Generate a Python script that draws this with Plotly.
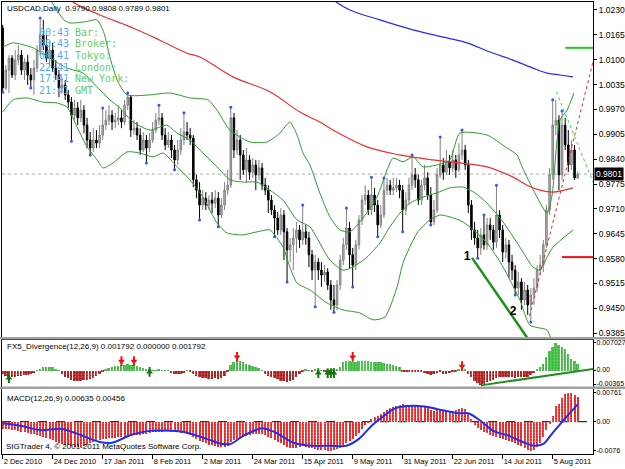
import plotly.graph_objects as go

# ---------------- DATA ----------------
opens = [1.0183,1.0026,1.0073,1.0104,1.0060,1.0099,1.0112,1.0073,1.0094,1.0060,
1.0047,1.0078,1.0125,1.0165,1.0138,1.0104,1.0125,1.0078,1.0060,1.0026,
1.0034,1.0008,0.9989,0.9955,0.9974,0.9948,0.9968,0.9929,0.9890,0.9869,
0.9890,0.9882,0.9903,0.9929,0.9942,0.9955,0.9937,0.9942,0.9948,0.9937,
0.9981,1.0002,0.9916,0.9921,0.9903,0.9864,0.9890,0.9869,0.9890,0.9916,
0.9942,0.9948,0.9903,0.9877,0.9890,0.9864,0.9838,0.9864,0.9890,0.9911,
0.9903,0.9895,0.9786,0.9759,0.9720,0.9738,0.9720,0.9733,0.9725,0.9738,
0.9694,0.9720,0.9759,0.9772,0.9948,0.9864,0.9890,0.9851,0.9812,0.9838,
0.9806,0.9825,0.9799,0.9817,0.9772,0.9759,0.9733,0.9707,0.9686,0.9655,
0.9694,0.9650,0.9603,0.9616,0.9634,0.9655,0.9629,0.9650,0.9634,0.9590,
0.9550,0.9571,0.9550,0.9537,0.9545,0.9511,0.9472,0.9459,0.9511,0.9576,
0.9616,0.9660,0.9590,0.9563,0.9616,0.9681,0.9733,0.9746,0.9707,0.9746,
0.9720,0.9668,0.9694,0.9759,0.9772,0.9759,0.9765,0.9772,0.9759,0.9707,
0.9733,0.9772,0.9799,0.9786,0.9733,0.9772,0.9791,0.9746,0.9676,0.9707,
0.9799,0.9825,0.9806,0.9833,0.9817,0.9838,0.9812,0.9851,0.9864,0.9825,
0.9720,0.9655,0.9634,0.9608,0.9642,0.9616,0.9668,0.9655,0.9623,0.9694,
0.9655,0.9597,0.9616,0.9571,0.9550,0.9503,0.9519,0.9472,0.9498,0.9459,
0.9485,0.9503,0.9550,0.9563,0.9616,0.9707,0.9799,0.9929,0.9942,0.9799,
0.9929,0.9877,0.9825,0.9864,0.9790]
highs = [1.0191,1.0086,1.0112,1.0112,1.0125,1.0138,1.0125,1.0104,1.0112,1.0078,
1.0099,1.0138,1.0209,1.0204,1.0165,1.0151,1.0144,1.0099,1.0073,1.0052,
1.0047,1.0021,1.0002,0.9995,0.9989,0.9995,0.9981,0.9948,0.9911,0.9921,
0.9916,0.9929,0.9974,0.9968,0.9981,0.9968,0.9961,0.9981,0.9968,0.9995,
1.0013,1.0008,0.9942,0.9937,0.9921,0.9911,0.9903,0.9908,0.9937,0.9961,
0.9981,0.9961,0.9921,0.9911,0.9903,0.9877,0.9890,0.9921,0.9961,0.9937,
0.9921,0.9903,0.9799,0.9780,0.9759,0.9754,0.9746,0.9754,0.9759,0.9754,
0.9738,0.9780,0.9812,0.9976,0.9961,0.9916,0.9903,0.9864,0.9869,0.9851,
0.9843,0.9838,0.9838,0.9830,0.9791,0.9772,0.9746,0.9720,0.9702,0.9712,
0.9707,0.9660,0.9634,0.9660,0.9676,0.9668,0.9720,0.9668,0.9650,0.9603,
0.9590,0.9581,0.9571,0.9563,0.9555,0.9524,0.9511,0.9524,0.9590,0.9634,
0.9712,0.9676,0.9608,0.9629,0.9694,0.9746,0.9772,0.9759,0.9793,0.9765,
0.9733,0.9720,0.9791,0.9791,0.9786,0.9791,0.9791,0.9786,0.9772,0.9754,
0.9791,0.9851,0.9817,0.9799,0.9786,0.9825,0.9806,0.9767,0.9733,0.9817,
0.9898,0.9843,0.9864,0.9851,0.9864,0.9851,0.9882,0.9916,0.9877,0.9838,
0.9733,0.9676,0.9655,0.9660,0.9694,0.9686,0.9686,0.9668,0.9772,0.9707,
0.9668,0.9634,0.9629,0.9590,0.9563,0.9545,0.9529,0.9519,0.9511,0.9503,
0.9529,0.9563,0.9590,0.9629,0.9720,0.9817,0.9995,0.9995,0.9955,0.9966,
0.9948,0.9916,0.9890,0.9877,0.9808]
lows = [1.0015,1.0021,1.0013,1.0052,1.0047,1.0086,1.0060,1.0047,1.0034,1.0026,
1.0008,1.0068,1.0112,1.0125,1.0094,1.0086,1.0068,1.0047,1.0002,1.0013,
0.9995,0.9974,0.9887,0.9942,0.9929,0.9937,0.9908,0.9869,0.9851,0.9859,
0.9869,0.9869,0.9890,0.9916,0.9929,0.9916,0.9921,0.9929,0.9921,0.9929,
0.9968,0.9898,0.9903,0.9890,0.9851,0.9859,0.9830,0.9859,0.9882,0.9908,
0.9929,0.9890,0.9864,0.9869,0.9843,0.9812,0.9825,0.9851,0.9877,0.9890,
0.9877,0.9767,0.9738,0.9681,0.9707,0.9707,0.9707,0.9699,0.9712,0.9663,
0.9686,0.9707,0.9746,0.9765,0.9843,0.9851,0.9786,0.9799,0.9778,0.9786,
0.9791,0.9759,0.9786,0.9759,0.9746,0.9699,0.9694,0.9637,0.9642,0.9642,
0.9576,0.9519,0.9571,0.9550,0.9595,0.9608,0.9616,0.9616,0.9558,0.9524,
0.9454,0.9524,0.9506,0.9519,0.9498,0.9446,0.9440,0.9446,0.9498,0.9563,
0.9603,0.9555,0.9506,0.9550,0.9603,0.9668,0.9720,0.9694,0.9694,0.9702,
0.9637,0.9660,0.9686,0.9746,0.9746,0.9746,0.9754,0.9738,0.9650,0.9694,
0.9720,0.9759,0.9765,0.9720,0.9720,0.9759,0.9733,0.9668,0.9668,0.9699,
0.9791,0.9786,0.9799,0.9799,0.9806,0.9791,0.9806,0.9838,0.9812,0.9699,
0.9629,0.9616,0.9581,0.9590,0.9603,0.9603,0.9629,0.9603,0.9608,0.9634,
0.9571,0.9581,0.9529,0.9524,0.9485,0.9485,0.9446,0.9459,0.9433,0.9414,
0.9459,0.9493,0.9537,0.9545,0.9608,0.9694,0.9786,0.9903,0.9759,0.9786,
0.9864,0.9806,0.9812,0.9786,0.9789]
closes = [1.0026,1.0073,1.0104,1.0060,1.0099,1.0112,1.0073,1.0094,1.0060,1.0047,
1.0078,1.0125,1.0165,1.0138,1.0104,1.0125,1.0078,1.0060,1.0026,1.0034,
1.0008,0.9989,0.9955,0.9974,0.9948,0.9968,0.9929,0.9890,0.9869,0.9890,
0.9882,0.9903,0.9929,0.9942,0.9955,0.9937,0.9942,0.9948,0.9937,0.9981,
1.0002,0.9916,0.9921,0.9903,0.9864,0.9890,0.9869,0.9890,0.9916,0.9942,
0.9948,0.9903,0.9877,0.9890,0.9864,0.9838,0.9864,0.9890,0.9911,0.9903,
0.9895,0.9786,0.9759,0.9720,0.9738,0.9720,0.9733,0.9725,0.9738,0.9694,
0.9720,0.9759,0.9772,0.9948,0.9864,0.9890,0.9851,0.9812,0.9838,0.9806,
0.9825,0.9799,0.9817,0.9772,0.9759,0.9733,0.9707,0.9686,0.9655,0.9694,
0.9650,0.9603,0.9616,0.9634,0.9655,0.9629,0.9650,0.9634,0.9590,0.9550,
0.9571,0.9550,0.9537,0.9545,0.9511,0.9472,0.9459,0.9511,0.9576,0.9616,
0.9660,0.9590,0.9563,0.9616,0.9681,0.9733,0.9746,0.9707,0.9746,0.9720,
0.9668,0.9694,0.9759,0.9772,0.9759,0.9765,0.9772,0.9759,0.9707,0.9733,
0.9772,0.9799,0.9786,0.9733,0.9772,0.9791,0.9746,0.9676,0.9707,0.9799,
0.9825,0.9806,0.9833,0.9817,0.9838,0.9812,0.9851,0.9864,0.9825,0.9720,
0.9655,0.9634,0.9608,0.9642,0.9616,0.9668,0.9655,0.9623,0.9694,0.9655,
0.9597,0.9616,0.9571,0.9550,0.9503,0.9519,0.9472,0.9498,0.9459,0.9485,
0.9503,0.9550,0.9563,0.9616,0.9707,0.9799,0.9929,0.9942,0.9799,0.9929,
0.9877,0.9825,0.9864,0.9791,0.9801]
bars = list(range(len(closes)))

date_tick_idx = [0, 16, 32, 48, 64, 80, 96, 112, 128, 144, 160, 176]
date_tick_text = ["2 Dec 2010", "24 Dec 2010", "17 Jan 2011", "8 Feb 2011", "2 Mar 2011",
                  "24 Mar 2011", "15 Apr 2011", "9 May 2011", "31 May 2011", "22 Jun 2011",
                  "14 Jul 2011", "5 Aug 2011"]
price_tick_text = ["1.0230", "1.0165", "1.0100", "1.0035", "0.9970", "0.9905", "0.9840",
                   "0.9775", "0.9710", "0.9645", "0.9580", "0.9515", "0.9450", "0.9385"]
fx5_tick_text = ["0.007027", "0.00", "-0.00365"]
macd_tick_text = ["0.00761", "0.00", "-0.0076"]

# Bollinger bands (read at sparse bar positions)
bb_upper_idx = [0, 8.7, 15.1, 17.7, 19.6, 21.5, 26.3, 30.2, 32.4, 34.3, 36.6, 39.8, 47.1, 53.5, 59.9, 65.7,
                68.6, 72.7, 79.1, 84.6, 88.7, 91.9, 94.2, 96.1, 98.3, 101.5, 104.7, 107.9, 111.1, 115.3,
                119.8, 123.0, 124.9, 128.1, 131.3, 134.5, 139.0, 143.1, 146.3, 155.0, 161.4, 164.6,
                166.2, 174.2, 175.8, 178.3, 180.6, 182.8]
bb_upper_val = [1.0303, 1.0287, 1.0256, 1.0225, 1.0204, 1.0196, 1.0199, 1.0204, 1.0170, 1.0107, 1.0047,
                1.0008, 1.0008, 1.0013, 1.0000, 0.9995, 0.9968, 0.9916, 0.9885, 0.9885, 0.9908, 0.9937,
                0.9903, 0.9856, 0.9825, 0.9751, 0.9689, 0.9655, 0.9650, 0.9686, 0.9741, 0.9812, 0.9843,
                0.9833, 0.9846, 0.9820, 0.9825, 0.9838, 0.9908, 0.9903, 0.9869, 0.9851, 0.9820, 0.9699,
                0.9746, 0.9942, 0.9968, 1.0013]
bb_mid_idx = [0, 3.3, 9.7, 15.1, 20.6, 25.7, 31.1, 34.3, 37.5, 41.7, 47.1, 52.6, 55.8, 59.9, 64.1, 68.6,
              72.7, 76.9, 81.4, 85.5, 89.7, 94.2, 98.3, 104.7, 108.9, 112.1, 116.6, 120.7, 123.9, 127.1,
              130.3, 134.5, 139.0, 143.1, 147.3, 151.1, 155.0, 160.1, 165.5, 169.7, 171.9, 174.2, 176.1, 182.5]
bb_mid_val = [1.0133, 1.0144, 1.0131, 1.0104, 1.0078, 1.0065, 1.0021, 0.9995, 0.9974, 0.9937, 0.9916,
              0.9929, 0.9908, 0.9890, 0.9856, 0.9820, 0.9786, 0.9780, 0.9780, 0.9759, 0.9733, 0.9681,
              0.9663, 0.9576, 0.9550, 0.9558, 0.9584, 0.9621, 0.9663, 0.9699, 0.9725, 0.9741, 0.9752,
              0.9765, 0.9767, 0.9752, 0.9725, 0.9676, 0.9610, 0.9558, 0.9550, 0.9584, 0.9610, 0.9655]
bb_lower_idx = [0, 3.3, 7.8, 12.9, 17.4, 20.6, 23.8, 27.0, 30.2, 32.1, 35.3, 39.8, 43.9, 48.1, 51.3, 55.8,
                59.9, 64.1, 68.6, 71.8, 76.9, 81.4, 85.5, 89.7, 91.9, 94.2, 98.3, 103.8, 108.9, 114.3,
                118.5, 122.3, 126.2, 128.1, 132.6, 136.7, 139.9, 143.1, 147.3, 155.0, 160.1, 165.5,
                168.7, 174.2, 176.1]
bb_lower_val = [0.9963, 0.9995, 1.0000, 0.9989, 0.9987, 0.9976, 0.9924, 0.9872, 0.9838, 0.9817, 0.9830,
                0.9859, 0.9856, 0.9846, 0.9856, 0.9820, 0.9786, 0.9741, 0.9673, 0.9647, 0.9642, 0.9650,
                0.9655, 0.9610, 0.9558, 0.9516, 0.9498, 0.9464, 0.9446, 0.9438, 0.9420, 0.9427, 0.9506,
                0.9569, 0.9647, 0.9681, 0.9694, 0.9689, 0.9676, 0.9621, 0.9558, 0.9472, 0.9406, 0.9393,
                0.9354]
ma_red_idx = [21.0, 22.5, 31.1, 41.7, 50.3, 59.0, 63.1, 73.7, 85.5, 95.1, 101.5, 105.7, 116.6, 127.1,
              137.7, 143.1, 155.0, 163.3, 167.8, 171.9, 176.1, 182.5]
ma_red_val = [1.0265, 1.0251, 1.0217, 1.0183, 1.0151, 1.0117, 1.0107, 1.0055, 1.0016, 0.9963, 0.9937,
              0.9916, 0.9872, 0.9851, 0.9838, 0.9833, 0.9820, 0.9793, 0.9772, 0.9759, 0.9754, 0.9765]
ma_blue_idx = [105.0, 111.1, 120.7, 131.3, 142.2, 148.6, 155.9, 163.3, 169.7, 174.2, 178.3, 182.5]
ma_blue_val = [1.0260, 1.0230, 1.0204, 1.0178, 1.0157, 1.0144, 1.0120, 1.0099, 1.0078, 1.0065, 1.0060, 1.0055]

fractal_high_idx = [12, 32, 40, 50, 58, 73, 96, 110, 118, 122, 131, 140, 147, 154, 158, 176, 179]
fractal_low_idx = [0, 9, 22, 28, 46, 55, 63, 69, 87, 91, 100, 106, 112, 120, 128, 137, 152, 164, 169]

# drawn objects
trend_idx = [150.2, 171.5]
trend_price = [0.9582, 0.9330]
level_green = 1.0131
level_green_idx = [180.0, 189.0]
level_red = 0.9584
level_red_idx = [179.0, 189.0]
proj_red_idx = [168.6, 188.9]
proj_red_price = [0.9430, 1.0094]
proj_green_idx = [177.2, 188.9]
proj_green_price = [1.0016, 0.9780]
wave_label_text = ["1", "2"]
wave_label_idx = [148.6, 163.3]
wave_label_price = [0.9584, 0.9440]

# FX5 divergence histogram
fx5_vals = [-0.0010,-0.0014,-0.0017,-0.0018,-0.0016,-0.0014,-0.0013,-0.0012,-0.0011,-0.0010,-0.0007,
0.0001,
0.0004,0.0008,0.0010,0.0010,0.0008,0.0004,
0.0001,
-0.0010,-0.0016,-0.0020,-0.0024,-0.0026,-0.0027,-0.0026,-0.0025,-0.0024,-0.0022,-0.0019,-0.0015,-0.0010,
-0.0003,0.0002,
0.0006,0.0010,0.0012,0.0013,0.0014,0.0015,0.0016,0.0014,0.0015,0.0013,0.0010,0.0006,0.0003,
0.0002,0.0001,0.0001,0.0002,0.0001,0.0001,0.0001,
-0.0006,-0.0009,-0.0010,-0.0009,-0.0006,
0.0001,-0.0002,
-0.0008,-0.0013,-0.0017,-0.0019,-0.0020,-0.0021,-0.0021,-0.0020,-0.0021,-0.0019,-0.0014,
-0.0005,
0.0014,0.0022,0.0026,0.0025,0.0022,0.0018,0.0015,0.0012,0.0010,0.0006,
0.0001,
-0.0008,-0.0013,-0.0017,-0.0020,-0.0023,-0.0026,-0.0028,-0.0030,-0.0028,-0.0024,-0.0018,
-0.0010,-0.0004,
0.0002,0.0001,-0.0003,0.0002,-0.0004,0.0001,-0.0003,-0.0005,-0.0003,0.0002,0.0003,
0.0010,0.0022,0.0025,0.0024,0.0023,0.0023,0.0024,0.0025,0.0026,0.0025,0.0023,0.0022,0.0021,0.0021,
0.0020,0.0018,0.0016,0.0014,0.0011,0.0008,
-0.0002,-0.0003,-0.0002,-0.0004,-0.0003,-0.0005,-0.0004,-0.0006,-0.0008,-0.0012,-0.0010,-0.0007,
-0.0005,-0.0008,-0.0010,-0.0007,-0.0004,-0.0002,
0.0002,0.0003,0.0002,
-0.0008,-0.0018,-0.0026,-0.0032,-0.00365,-0.0034,-0.0030,-0.0026,-0.0024,-0.0020,-0.0018,-0.0018,
-0.0017,-0.0018,-0.0018,-0.0019,-0.0018,-0.0017,-0.0018,-0.0016,-0.0012,-0.0007,
0.0003,0.0008,0.0016,0.0035,0.0052,0.0062,0.007027,0.0066,0.0062,0.0055,0.0043,0.0031,0.0024,0.001792]
fx5_signal_last = 0.000000
fx5_sell_idx = [38, 42, 75, 112, 147]
fx5_sell_val = [0.0023, 0.0023, 0.0034, 0.0034, 0.0010]
fx5_buy_idx = [2, 47, 101, 104, 105, 106]
fx5_buy_val = [-0.0021, -0.0005, -0.0008, -0.0008, -0.0008, -0.0008]
fx5_trend_idx = [153.0, 189.0]
fx5_trend_val = [-0.0040, 0.0003]

# MACD
macd_hist = [-0.0018,-0.0019,-0.0020,-0.0021,-0.0022,
-0.0024,-0.0026,-0.0028,-0.0030,-0.0031,
-0.0033,-0.0035,-0.0037,-0.0040,-0.0043,-0.0046,
-0.0049,-0.0052,-0.0055,-0.0058,-0.0060,-0.0062,
-0.0064,-0.0066,-0.0066,-0.0065,-0.0063,-0.0060,
-0.0057,-0.0054,-0.0051,-0.0048,-0.0046,
-0.0044,-0.0043,-0.0042,-0.0042,-0.0041,-0.0040,-0.0040,-0.0038,-0.0037,-0.0036,
-0.0035,-0.0034,-0.0033,-0.0031,-0.0030,
-0.0028,-0.0027,-0.0026,-0.0026,-0.0025,-0.0025,-0.0026,-0.0027,-0.0028,-0.0029,
-0.0030,-0.0031,-0.0034,-0.0040,-0.0045,
-0.0050,-0.0054,-0.0057,-0.0060,-0.0062,-0.0064,-0.0066,-0.0067,-0.0066,-0.0064,
-0.0052,-0.0048,-0.0045,-0.0042,-0.0040,
-0.0037,-0.0035,-0.0033,-0.0032,-0.0031,-0.0032,-0.0035,
-0.0039,-0.0043,-0.0047,-0.0052,-0.0056,-0.0060,-0.0065,-0.0068,
-0.0069,-0.0068,-0.0066,-0.0064,-0.0065,-0.0068,-0.0070,
-0.0072,-0.0073,-0.0074,-0.0075,-0.0076,-0.0076,-0.0075,-0.0072,-0.0068,
-0.0062,-0.0055,-0.0050,-0.0045,-0.0038,-0.0030,-0.0020,
-0.0008,-0.0002,
0.0008,0.0012,0.0016,0.0020,0.0025,0.0030,0.0035,0.0038,0.0042,
0.0045,0.0046,0.0045,0.0044,0.0045,0.0043,0.0042,0.0040,0.0038,0.0036,
0.0030,0.0028,0.0030,0.0032,0.0030,0.0028,0.0027,0.0027,0.0030,
0.0033,0.0036,0.0034,
0.0022,0.0008,
-0.0008,-0.0016,-0.0022,-0.0026,-0.0030,
-0.0034,-0.0038,-0.0040,-0.0042,-0.0045,-0.0047,-0.0050,-0.0053,-0.0056,-0.0060,-0.0064,
-0.0069,-0.0073,-0.0076,-0.0074,
-0.0066,-0.0055,-0.0040,-0.0022,-0.0005,
0.0014,0.0040,0.0046,0.0062,0.0072,0.00761,0.0074,0.0071,0.00635]
macd_sig_idx = [0, 6, 12, 19, 25, 31, 35, 41, 47, 54, 59, 66, 70, 73, 77, 83, 87, 93, 99, 105, 110,
                114, 118, 121, 125, 128, 135, 139, 146, 149, 153, 157, 162, 167, 170, 173, 176, 180, 184]
macd_sig_val = [-0.0004, -0.0011, -0.0022, -0.0019, -0.0035, -0.0053, -0.0055, -0.0035, -0.0024, -0.0024,
                -0.0029, -0.0047, -0.0058, -0.0058, -0.0037, -0.0017, -0.0027, -0.0055, -0.0063, -0.0063,
                -0.0063, -0.0045, -0.0011, 0.0009, 0.0033, 0.0040, 0.0040, 0.0033, 0.0022, 0.0022, 0.0002,
                -0.0024, -0.0037, -0.0055, -0.0063, -0.0058, -0.0029, 0.0009, 0.00456]

timer_times = ["00:43", "00:43", "00:41", "22:41", "17:41", "21:41"]
timer_labels = ["Bar:", "Broker:", "Tokyo:", "London:", "New York:", "GMT"]

# ---------------- FIGURE ----------------
W, H = 625, 469
ML, MR, MT, MB = 2, 32, 2, 15
PW, PH = W - ML - MR, H - MT - MB

def px_x(px):
    return (px - ML) / PW

def px_y(py):
    return (H - MB - py) / PH

FONT = "Liberation Sans"
fig = go.Figure()

fig.add_trace(go.Candlestick(
    x=bars, open=opens, high=highs, low=lows, close=closes, xaxis="x2", yaxis="y2",
    increasing=dict(line=dict(color="#808080", width=1), fillcolor="#b8b8b8"),
    decreasing=dict(line=dict(color="#000000", width=1), fillcolor="#000000"),
    whiskerwidth=0, hoverinfo="skip", showlegend=False))

for xs, ys in [(bb_upper_idx, bb_upper_val), (bb_mid_idx, bb_mid_val), (bb_lower_idx, bb_lower_val)]:
    fig.add_trace(go.Scatter(x=xs, y=ys, mode="lines", xaxis="x2", yaxis="y2",
                             line=dict(color="#2e9a2e", width=1, shape="spline", smoothing=0.6),
                             hoverinfo="skip", showlegend=False))
fig.add_trace(go.Scatter(x=ma_red_idx, y=ma_red_val, mode="lines", xaxis="x2", yaxis="y2",
                         line=dict(color="#ee3030", width=1.2, shape="spline"), hoverinfo="skip", showlegend=False))
fig.add_trace(go.Scatter(x=ma_blue_idx, y=ma_blue_val, mode="lines", xaxis="x2", yaxis="y2",
                         line=dict(color="#2a2aee", width=1.2, shape="spline"), hoverinfo="skip", showlegend=False))

# fractal dots
fig.add_trace(go.Scatter(x=fractal_high_idx, y=[highs[i] for i in fractal_high_idx], mode="markers",
                         xaxis="x2", yaxis="y2", marker=dict(color="#3355ff", size=3),
                         hoverinfo="skip", showlegend=False))
fig.add_trace(go.Scatter(x=fractal_low_idx, y=[lows[i] for i in fractal_low_idx], mode="markers",
                         xaxis="x2", yaxis="y2", marker=dict(color="#3355ff", size=3),
                         hoverinfo="skip", showlegend=False))

# drawn objects
fig.add_trace(go.Scatter(x=trend_idx, y=trend_price, mode="lines", xaxis="x2", yaxis="y2",
                         line=dict(color="#1f8f1f", width=2.5), hoverinfo="skip", showlegend=False))
fig.add_trace(go.Scatter(x=level_green_idx, y=[level_green, level_green], mode="lines", xaxis="x2", yaxis="y2",
                         line=dict(color="#22cc22", width=2), hoverinfo="skip", showlegend=False))
fig.add_trace(go.Scatter(x=level_red_idx, y=[level_red, level_red], mode="lines", xaxis="x2", yaxis="y2",
                         line=dict(color="#ee1111", width=2), hoverinfo="skip", showlegend=False))
fig.add_trace(go.Scatter(x=proj_red_idx, y=proj_red_price, mode="lines", xaxis="x2", yaxis="y2",
                         line=dict(color="#ee2222", width=1, dash="dot"), hoverinfo="skip", showlegend=False))
fig.add_trace(go.Scatter(x=proj_green_idx, y=proj_green_price, mode="lines", xaxis="x2", yaxis="y2",
                         line=dict(color="#33dd33", width=1, dash="dot"), hoverinfo="skip", showlegend=False))
fig.add_trace(go.Scatter(x=wave_label_idx, y=wave_label_price, mode="text", text=wave_label_text,
                         xaxis="x2", yaxis="y2", textfont=dict(family=FONT, size=12, color="black", weight="bold"),
                         hoverinfo="skip", showlegend=False))

# FX5 panel
fx5_colors = ["#4fd04f" if v >= 0 else "#b01818" for v in fx5_vals]
fig.add_trace(go.Bar(x=bars, y=fx5_vals, xaxis="x3", yaxis="y3",
                     marker=dict(color=fx5_colors, line=dict(width=0),
                                 pattern=dict(shape=".", fgcolor="#ffffff", size=3, solidity=0.25)),
                     width=0.62, hoverinfo="skip", showlegend=False))
fig.add_trace(go.Scatter(x=fx5_trend_idx, y=fx5_trend_val, mode="lines", xaxis="x3", yaxis="y3",
                         line=dict(color="#1f8f1f", width=2), hoverinfo="skip", showlegend=False))
# arrows drawn as markers: head + stem
for idxs, vals, col, head in [(fx5_sell_idx, fx5_sell_val, "#ee1111", "triangle-down"),
                              (fx5_buy_idx, fx5_buy_val, "#117711", "triangle-up")]:
    fig.add_trace(go.Scatter(x=idxs, y=vals, mode="markers", xaxis="x3", yaxis="y3",
                             marker=dict(symbol=head, size=6, color=col, line=dict(width=0)),
                             hoverinfo="skip", showlegend=False))
    fig.add_trace(go.Scatter(x=idxs, y=vals, mode="markers", xaxis="x3", yaxis="y3",
                             marker=dict(symbol="line-ns", size=7, color=col, line=dict(width=2, color=col)),
                             hoverinfo="skip", showlegend=False))

# MACD panel
fig.add_trace(go.Bar(x=bars, y=macd_hist, xaxis="x", yaxis="y",
                     marker=dict(color="#ee2020", line=dict(width=0),
                                 pattern=dict(shape=".", fgcolor="#ff9a9a", size=3, solidity=0.3)),
                     width=0.66, hoverinfo="skip", showlegend=False))
fig.add_trace(go.Scatter(x=macd_sig_idx, y=macd_sig_val, mode="lines", xaxis="x", yaxis="y",
                         line=dict(color="#1f2ff0", width=2, shape="spline", smoothing=0.8),
                         hoverinfo="skip", showlegend=False))

xr = [-0.22, 188.9]
common_x = dict(range=xr, showgrid=False, zeroline=False, showline=True, mirror=True, automargin=False,
                linecolor="#000000", linewidth=1, rangeslider=dict(visible=False), fixedrange=True)
common_y = dict(side="right", showgrid=False, zeroline=False, showline=True, mirror=True, automargin=False,
                linecolor="#000000", linewidth=1, ticks="outside", tickcolor="#000000", fixedrange=True)

main_range = [0.93751, 1.02508]
fx5_range = [-0.00429, 0.00793]
macd_range = [-0.00846, 0.00857]

fig.update_layout(
    width=W, height=H, margin=dict(l=ML, r=MR, t=MT, b=MB, autoexpand=False),
    paper_bgcolor="white", plot_bgcolor="white", showlegend=False, bargap=0,
    font=dict(family=FONT, size=8, color="black"),
    xaxis=dict(**common_x, anchor="y", tickmode="array", tickvals=date_tick_idx, ticktext=date_tick_text,
               ticks="outside", ticklen=4, tickcolor="#000000", ticklabelposition="outside right",
               tickangle=0, tickfont=dict(family=FONT, size=7.5, color="black")),
    xaxis2=dict(**common_x, anchor="y2", matches="x", showticklabels=False),
    xaxis3=dict(**common_x, anchor="y3", matches="x", showticklabels=False),
    yaxis=dict(**common_y, anchor="x", domain=[0, px_y(389)], range=macd_range, ticklen=2,
               ticklabelstandoff=-1, tickfont=dict(family=FONT, size=7, color="black"),
               tickmode="array", tickvals=[float(t) for t in macd_tick_text], ticktext=macd_tick_text),
    yaxis2=dict(**common_y, anchor="x2", domain=[px_y(337), 1], range=main_range, ticklen=3,
                tickfont=dict(family=FONT, size=8.5, color="black"),
                tickmode="array", tickvals=[float(t) for t in price_tick_text], ticktext=price_tick_text),
    yaxis3=dict(**common_y, anchor="x3", domain=[px_y(386.5), px_y(339.5)], range=fx5_range, ticklen=2,
                ticklabelstandoff=-1, tickfont=dict(family=FONT, size=7, color="black"),
                tickmode="array", tickvals=[float(t) for t in fx5_tick_text], ticktext=fx5_tick_text),
)

shapes = [
    dict(type="line", xref="x2", yref="y2", x0=xr[0], x1=xr[1], y0=closes[-1], y1=closes[-1],
         line=dict(color="#a8a8a8", width=1, dash="dot"), layer="below"),
    dict(type="line", xref="x", yref="y", x0=xr[0], x1=xr[1], y0=0, y1=0,
         line=dict(color="#000000", width=1, dash="dash"), layer="below"),
    dict(type="rect", xref="paper", yref="paper", x0=px_x(0), x1=px_x(W), y0=px_y(339.5), y1=px_y(337),
         fillcolor="#a0a0a0", line=dict(width=0)),
    dict(type="rect", xref="paper", yref="paper", x0=px_x(0), x1=px_x(W), y0=px_y(389), y1=px_y(386.5),
         fillcolor="#a0a0a0", line=dict(width=0)),
]
fig.update_layout(shapes=shapes)

ann = []
ann.append(dict(xref="paper", yref="paper", x=px_x(5), y=px_y(8), xanchor="left", yanchor="middle",
                showarrow=False, font=dict(family=FONT, size=8, color="black"),
                text=f"USDCAD,Daily  {opens[-1]:.4f} {highs[-1]:.4f} {lows[-1]:.4f} {closes[-1]:.4f}"))
ann.append(dict(xref="paper", yref="paper", x=px_x(5), y=px_y(346.5), xanchor="left", yanchor="middle",
                showarrow=False, font=dict(family=FONT, size=8, color="black"),
                text=f"FX5_Divergence(12,26,9) {fx5_vals[-1]:.6f} {fx5_signal_last:.6f} {fx5_vals[-1]:.6f}"))
ann.append(dict(xref="paper", yref="paper", x=px_x(5), y=px_y(398), xanchor="left", yanchor="middle",
                showarrow=False, font=dict(family=FONT, size=8, color="black"),
                text=f"MACD(12,26,9) {macd_hist[-1]:.5f} {macd_sig_val[-1]:.5f}"))
ann.append(dict(xref="paper", yref="paper", x=px_x(4), y=px_y(446), xanchor="left", yanchor="middle",
                showarrow=False, font=dict(family=FONT, size=8, color="black"),
                text="SIGTrader 4, © 2001-2011 MetaQuotes Software Corp."))
for k, (t, lab) in enumerate(zip(timer_times, timer_labels)):
    yy = px_y(32.3 + 11.6 * k)
    ann.append(dict(xref="paper", yref="paper", x=px_x(37), y=yy, xanchor="left", yanchor="middle",
                    showarrow=False, font=dict(family="DejaVu Sans Mono", size=10, color="#55a8ff"), text=t))
    ann.append(dict(xref="paper", yref="paper", x=px_x(73), y=yy, xanchor="left", yanchor="middle",
                    showarrow=False, font=dict(family="DejaVu Sans Mono", size=10, color="#66cc66"), text=lab))
ann.append(dict(xref="paper", yref="y2", x=1, y=closes[-1], xanchor="left", yanchor="middle", xshift=1,
                showarrow=False, bgcolor="#000000", borderpad=1,
                font=dict(family=FONT, size=8.5, color="white"), text=f"{closes[-1]:.4f}"))
fig.update_layout(annotations=ann)

fig.write_html("out.html")
